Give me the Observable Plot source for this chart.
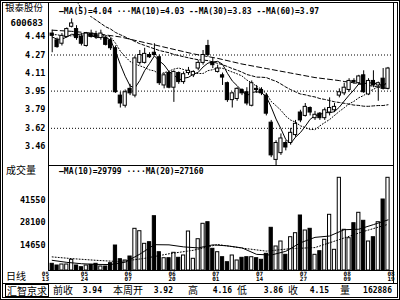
<!DOCTYPE html>
<html>
<head>
<meta charset="utf-8">
<script src="https://cdn.jsdelivr.net/npm/d3@7"></script>
<script src="https://cdn.jsdelivr.net/npm/@observablehq/plot@0.6"></script>
<style>
  html, body { margin:0; padding:0; background:#fff; }
  #wrap { position:relative; width:400px; height:300px; overflow:hidden; background:#fff; }
  #wrap svg { position:absolute; left:0; }
  .abs { position:absolute; white-space:pre; line-height:1; color:#000; }
  .ln { position:absolute; background:#000; }
  .cjk { font-family:"Noto Sans CJK SC", sans-serif; }
  .num { font-family:"DejaVu Sans Mono", monospace; font-weight:bold; }
</style>
</head>
<body>
<div id="wrap"></div>
<script>
// ---------------- DATA ----------------
const stockName = "银泰股份";
const stockCode = "600683";
const volLabel = "成交量";
const periodLabel = "日线";
const sourceLabel = "汇智京求";

const opens  = [4.46,4.40,4.37,4.43,4.52,4.50,4.43,4.35,4.46,4.45, 4.42,4.42,4.40,4.33,3.91,3.82,3.97,3.91,4.20,4.20,
                4.27,4.29,4.25,4.00,4.11,3.98,4.11,4.03,4.11,4.09, 4.15,4.20,4.35,4.20,4.12,4.09,4.02,3.87,3.88,3.96,
                3.94,3.82,3.97,3.96,3.91,3.67,3.34,3.40,3.49,3.49, 3.56,3.76,3.73,3.80,3.71,3.75,3.71,3.76,3.78,3.91,
                3.93,3.96,4.04,4.02,4.09,3.92,4.04,4.00,4.06,3.97];
const highs  = [4.49,4.42,4.46,4.51,4.59,4.53,4.46,4.47,4.49,4.48, 4.49,4.44,4.42,4.35,3.94,3.96,4.01,4.26,4.31,4.33,
                4.29,4.37,4.27,4.11,4.12,4.13,4.12,4.12,4.16,4.13, 4.22,4.31,4.40,4.24,4.18,4.11,4.03,3.94,3.98,3.97,
                3.98,4.04,4.00,3.98,3.93,3.69,3.51,3.57,3.51,3.62, 3.69,3.78,3.84,3.81,3.77,3.76,3.80,3.89,3.84,3.97,
                4.02,4.06,4.06,4.09,4.13,4.06,4.13,4.03,4.15,4.16];
const lows   = [4.29,4.33,4.35,4.42,4.51,4.40,4.35,4.34,4.42,4.41, 4.40,4.35,4.31,3.93,3.80,3.80,3.91,3.89,4.18,4.19,
                4.24,4.26,4.00,3.97,3.97,3.85,4.01,4.01,4.09,4.07, 4.13,4.18,4.25,4.15,4.11,4.00,3.85,3.80,3.86,3.91,
                3.82,3.81,3.93,3.91,3.73,3.36,3.29,3.38,3.42,3.47, 3.54,3.67,3.72,3.73,3.69,3.69,3.69,3.73,3.76,3.89,
                3.91,3.94,4.01,4.00,3.93,3.91,3.98,3.86,3.96,3.96];
const closes = [4.44,4.34,4.44,4.50,4.55,4.42,4.37,4.46,4.43,4.43, 4.46,4.36,4.33,3.94,3.84,3.94,3.93,4.24,4.27,4.28,
                4.25,4.27,4.02,4.09,3.98,4.12,4.03,4.10,4.13,4.12, 4.20,4.27,4.27,4.18,4.15,4.07,3.87,3.93,3.97,3.93,
                3.84,4.02,3.96,3.93,3.75,3.38,3.49,3.53,3.45,3.58, 3.66,3.69,3.81,3.76,3.74,3.71,3.78,3.80,3.81,3.94,
                3.98,4.04,4.03,4.08,3.94,4.04,4.00,4.02,3.97,4.15];
const volumes = [3940,2940,3530,3530,6300,2940,1940,2940,3350,3940, 2350,2350,4300,14700,6650,5890,8240,24540,23130,15700,
                 16660,31960,10770,7240,7240,10420,7470,8830,22950,6890, 18420,27490,28430,12770,10770,7830,4890,8830,5890,7470,
                 7830,7830,7240,6300,9830,25130,14130,17070,9240,19600, 21960,32370,23540,24540,9240,11360,18070,32780,12180,54560,
                 23960,19010,27840,33960,29250,17070,19600,28430,41790,54560];

// price moving averages, one value per bar (null = above the visible range)
const ma5  = [4.43,4.41,4.41,4.43,4.454,4.45,4.456,4.46,4.446,4.422, 4.43,4.428,4.402,4.304,4.186,4.082,3.996,3.978,4.044,4.132,
              4.194,4.262,4.218,4.182,4.122,4.096,4.048,4.064,4.072,4.10, 4.116,4.164,4.198,4.208,4.214,4.188,4.108,4.04,3.998,3.954,
              3.908,3.938,3.944,3.936,3.90,3.808,3.702,3.616,3.52,3.486, 3.542,3.582,3.638,3.70,3.732,3.742,3.76,3.758,3.768,3.808,
              3.862,3.914,3.96,4.014,4.014,4.026,4.018,4.016,3.994,4.036];
const ma10 = [4.45,4.45,4.44,4.44,4.44,4.44,4.44,4.44,4.44,4.438, 4.44,4.442,4.431,4.375,4.304,4.256,4.212,4.19,4.174,4.159,
              4.138,4.129,4.098,4.113,4.127,4.145,4.155,4.141,4.127,4.111, 4.106,4.106,4.131,4.14,4.157,4.152,4.136,4.119,4.103,4.084,
              4.048,4.023,3.992,3.967,3.927,3.858,3.82,3.78,3.728,3.693, 3.675,3.642,3.627,3.61,3.609,3.642,3.671,3.698,3.734,3.77,
              3.802,3.837,3.859,3.891,3.911,3.944,3.966,3.988,4.004,4.025];
const ma30 = [null,null,null,null,null,4.75,4.68,4.64,4.61,4.58, 4.55,4.52,4.50,4.47,4.45,4.43,4.41,4.39,4.37,4.355,
              4.34,4.325,4.31,4.30,4.29,4.275,4.265,4.255,4.245,4.236, 4.228,4.226,4.22,4.209,4.196,4.184,4.168,4.15,4.135,4.118,
              4.097,4.086,4.074,4.073,4.07,4.052,4.037,4.013,3.986,3.963, 3.943,3.924,3.917,3.906,3.898,3.884,3.876,3.866,3.855,3.849,
              3.842,3.834,3.826,3.823,3.816,3.815,3.819,3.822,3.822,3.829];
const ma60Bars = [1,5,10,15,20,25,30,35,40,45,50,55,60,61,62,63,64,65,66,67,68,69,70];
const ma60Vals = [4.49,4.48,4.46,4.43,4.38,4.33,4.28,4.24,4.19,4.15,4.11,4.07,4.043,4.035,4.03,4.023,4.016,4.006,4.0,3.993,3.986,3.978,3.974];

// volume moving averages (read at sample bars)
const volMa10Bars = [1,4,7,10,13,16,19,22,25,28,31,34,37,40,43,46,49,52,55,58,61,64,67,70];
const volMa10Vals = [6000,4800,4000,3600,3500,4900,9600,15200,15100,13900,13300,15100,14500,13300,9500,9100,11300,16300,19500,20300,24000,24300,27000,29799];
const volMa20Bars = [1,5,10,15,20,25,30,35,40,45,50,55,60,65,70];
const volMa20Vals = [8000,7000,6000,5200,7160,9840,11900,15300,13200,11400,12850,13500,18200,23000,27160];

// axes
const priceTicks = [4.44, 4.27, 4.11, 3.95, 3.79, 3.62, 3.46];
const priceGrid  = [4.27, 3.95, 3.62];
const volTicks   = [14650, 28100, 41550];
const dateBars   = [-1, 7, 16, 25, 34, 43, 52, 61, 70];
const dateMonths = ["05","05","06","06","07","07","07","08","08"];
const dateDays   = ["13","24","07","20","01","14","27","09","19"];

// legends
const maPeriods = [5, 10, 30, 60];
const maLast    = ["4.04", "4.03", "3.83", "3.97"];
const maSymbols = ["—", "···", "--", "--"];
const volMaPeriods = [10, 20];
const volMaLast    = [29799, 27160];
const volMaSymbols = ["—", "····"];

// weekly status bar
const statusLabels = ["前收", "本周开", "高", "低", "收", "量"];
const statusValues = ["3.94", "3.92", "4.16", "3.86", "4.15", "162886"];

// ---------------- BUILD ----------------
const rows = opens.map((o, k) => ({
  i: k + 1, o, h: highs[k], l: lows[k], c: closes[k], v: volumes[k],
  col: closes[k] >= o ? "#fff" : "#000"
}));
const lineRows = (vals) => vals.map((v, k) => ({i: k + 1, v})).filter(d => d.v != null);
const pairRows = (bars, vals) => bars.map((b, k) => ({i: b, v: vals[k]}));
const xDomain = [0.24, 71.23];
const half = 0.33;
const baseStyle = {background: "none", overflow: "visible", fontFamily: "DejaVu Sans Mono, monospace", fontWeight: "bold", fontSize: "8.5px", color: "#000"};

const pricePlot = Plot.plot({
  width: 400, height: 165,
  marginLeft: 48, marginRight: 6.5, marginTop: 3, marginBottom: 0,
  style: baseStyle,
  x: {domain: xDomain, axis: null},
  y: {domain: [3.2904, 4.7266], ticks: priceTicks, tickSize: 0, tickPadding: 3,
      tickFormat: d3.format(".2f"), label: null},
  marks: [
    Plot.ruleY(priceGrid, {stroke: "#000", strokeDasharray: "1,2", strokeWidth: 1}),
    Plot.ruleX(rows, {x: "i", y1: "l", y2: "h", stroke: "#000", strokeWidth: 1, clip: true}),
    Plot.line(pairRows(ma60Bars, ma60Vals), {x: "i", y: "v", stroke: "#000", strokeWidth: 1, strokeDasharray: "5,3", clip: true}),
    Plot.line(lineRows(ma30), {x: "i", y: "v", stroke: "#000", strokeWidth: 1, strokeDasharray: "3,2", clip: true}),
    Plot.line(lineRows(ma10), {x: "i", y: "v", stroke: "#000", strokeWidth: 1, strokeDasharray: "1,2", clip: true}),
    Plot.line(lineRows(ma5), {x: "i", y: "v", stroke: "#000", strokeWidth: 1, clip: true}),
    Plot.rect(rows, {x1: d => d.i - half, x2: d => d.i + half, y1: "o", y2: "c",
      fill: "col", stroke: "#000", strokeWidth: 1, clip: true})
  ]
});

const volPlot = Plot.plot({
  width: 400, height: 118,
  marginLeft: 48, marginRight: 6.5, marginTop: 0, marginBottom: 13,
  style: baseStyle,
  x: {domain: xDomain, axis: null},
  y: {domain: [0, 61803], ticks: volTicks, tickSize: 0, tickPadding: 3,
      tickFormat: d => String(d), label: null},
  marks: [
    Plot.rect(rows, {x1: d => d.i - half, x2: d => d.i + half, y1: 0, y2: "v",
      fill: "col", stroke: "#000", strokeWidth: 1}),
    Plot.line(pairRows(volMa20Bars, volMa20Vals), {x: "i", y: "v", stroke: "#000", strokeWidth: 1, strokeDasharray: "1,2"}),
    Plot.line(pairRows(volMa10Bars, volMa10Vals), {x: "i", y: "v", stroke: "#000", strokeWidth: 1}),
    Plot.text(dateBars, {x: d => d, text: (d, k) => dateMonths[k], frameAnchor: "bottom", lineAnchor: "top",
      dx: 3, dy: 1, fontSize: 6, fill: "#000"}),
    Plot.text(dateBars, {x: d => d, text: (d, k) => dateDays[k], frameAnchor: "bottom", lineAnchor: "top",
      dx: 3, dy: 6.5, fontSize: 6, fill: "#000"})
  ]
});

const wrap = document.getElementById("wrap");
pricePlot.style.top = "0px";
volPlot.style.top = "165px";
wrap.appendChild(pricePlot);
wrap.appendChild(volPlot);

function put(text, cls, css) {
  const d = document.createElement("div");
  d.className = "abs " + cls;
  d.textContent = text;
  Object.assign(d.style, css);
  wrap.appendChild(d);
  return d;
}
function line(l, t, w, h) {
  const d = document.createElement("div");
  d.className = "ln";
  Object.assign(d.style, {left: l + "px", top: t + "px", width: w + "px", height: h + "px"});
  wrap.appendChild(d);
}

// frame & panel lines
const frame = document.createElement("div");
Object.assign(frame.style, {position: "absolute", left: "0", top: "0", width: "400px", height: "300px",
  boxSizing: "border-box", border: "3px double #000"});
wrap.appendChild(frame);
line(48, 2, 1, 268);
line(393, 2, 1, 281);
line(48, 165, 346, 1);
line(48, 270, 346, 1);
line(2, 283, 396, 1);

// header text
put(stockName, "cjk", {left: "5px", top: "3px", fontSize: "9.5px"});
put(stockCode, "num", {right: "357px", top: "19px", fontSize: "9px"});
put(volLabel, "cjk", {left: "6px", top: "165px", fontSize: "10px"});
put(periodLabel, "cjk", {left: "6px", top: "271px", fontSize: "10px"});

// legends
put(maPeriods.map((p, k) => maSymbols[k] + "MA(" + p + ")=" + maLast[k]).join(" "), "num",
  {left: "58px", top: "8px", fontSize: "8px", background: "#fff", padding: "0 1px"});
put(volMaPeriods.map((p, k) => volMaSymbols[k] + "MA(" + p + ")=" + volMaLast[k]).join(" "), "num",
  {left: "58px", top: "168px", fontSize: "8px", background: "#fff", padding: "0 1px"});

// status bar
put(sourceLabel, "cjk", {left: "5px", top: "284px", fontSize: "10px", border: "1px solid #000", padding: "0 1px", height: "11px", lineHeight: "11px"});
const statusLayout = [[53, 102], [113, 173], [188, 232], [237, 283], [288, 329], [340, 392]];
statusLabels.forEach((lab, k) => {
  put(lab, "cjk", {left: statusLayout[k][0] + "px", top: "285px", fontSize: "10px"});
  put(statusValues[k], "num", {right: (400 - statusLayout[k][1]) + "px", top: "287px", fontSize: "8px"});
});
</script>
</body>
</html>
